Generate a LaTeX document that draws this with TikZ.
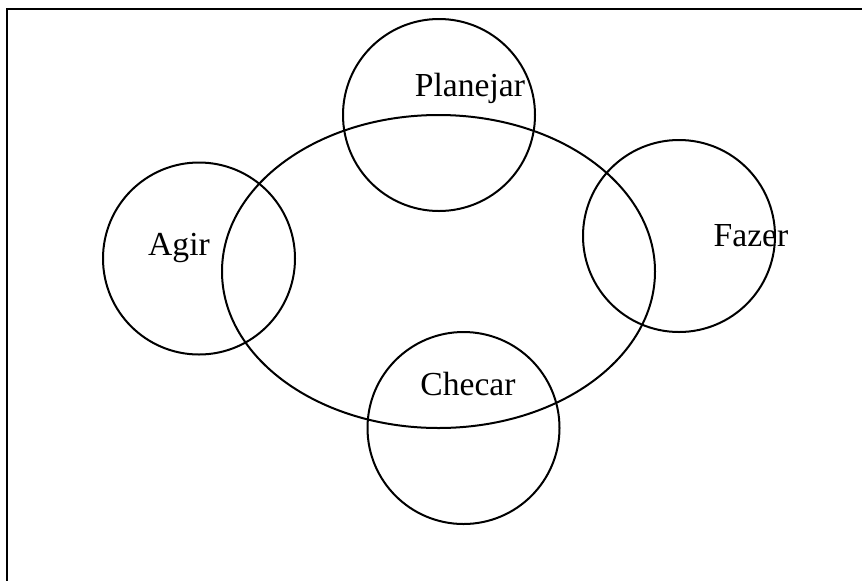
\documentclass[tikz,border=0pt]{standalone}
\usepackage{fontspec}
\setmainfont{Liberation Serif}
\usetikzlibrary{shapes.geometric}
\tikzset{
  ring/.style={draw, line width=1pt, circle, minimum size=96pt, inner sep=0pt},
  oval/.style={draw, line width=1pt, ellipse, minimum width=216.5pt, minimum height=156.5pt, inner sep=0pt},
  label text/.style={anchor=base, inner sep=0pt, font=\fontsize{16.8}{20}\selectfont},
  frame/.style={line width=1.2pt}
}
\begin{document}
\begin{tikzpicture}[x=0.5pt, y=-0.5pt]
\useasboundingbox (0,0) rectangle (862,580);
\draw[frame] (7,600) -- (7,9) -- (880,9);
\node[oval] (cycle) at (438.5,271.5) {};
\node[ring] (plan) at (439,115) {};
\node[ring] (act) at (199,258.5) {};
\node[ring] (do) at (679,236) {};
\node[ring] (check) at (463.5,428) {};
\node[label text] (tplan) at (470,96) {Planejar};
\node[label text] (tdo) at (751,246) {Fazer};
\node[label text] (tact) at (179,255) {Agir};
\node[label text] (tcheck) at (468,395) {Checar};
\end{tikzpicture}
\end{document}
